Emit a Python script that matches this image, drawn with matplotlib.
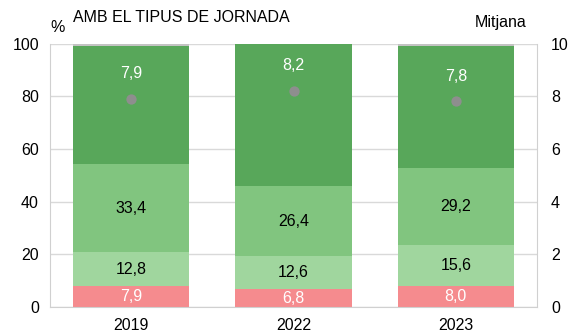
import matplotlib
matplotlib.use("Agg")
import matplotlib.pyplot as plt
import numpy as np

plt.rcParams['font.family'] = ['Liberation Sans', 'DejaVu Sans']

years = ["2019", "2022", "2023"]
share_red = [7.9, 6.8, 8.0]
share_light = [12.8, 12.6, 15.6]
share_mid = [33.4, 26.4, 29.2]
share_dark = [45.0, 54.2, 46.2]
share_gray = [0.9, 0.0, 1.0]
mean_score = [7.9, 8.2, 7.8]

colors = ["#F58B8E", "#A0D69E", "#81C57F", "#58A75A", "#C3C3C3"]
text_colors = ["white", "black", "black", None, None]
fs = 11.5

fig = plt.figure(figsize=(5.72, 3.32), dpi=100)
ax = fig.add_axes([50/572, 1-307/332, 487/572, (307-43.5)/332])
x = np.arange(len(years))
width = 0.715

segments = [share_red, share_light, share_mid, share_dark, share_gray]
bottom = np.zeros(len(years))
for vals, col, tc in zip(segments, colors, text_colors):
    vals = np.array(vals)
    ax.bar(x, vals, width, bottom=bottom, color=col, linewidth=0, zorder=2)
    if tc is not None:
        for xi, b, v in zip(x, bottom, vals):
            ax.text(xi, b + v/2, f"{v:.1f}".replace(".", ","), ha="center",
                    va="center", color=tc, fontsize=fs, zorder=4)
    bottom += vals

ax.set_xlim(-0.5, 2.5)
ax.set_ylim(0, 100)
ax.set_yticks(range(0, 101, 20))
ax.set_xticks(x)
ax.set_xticklabels(years)
ax.yaxis.grid(True, color="#D9D9D9", linewidth=1, zorder=0)
ax.set_axisbelow(True)
ax.tick_params(length=0, labelsize=fs, pad=8)
for s in ["left", "right", "bottom"]:
    ax.spines[s].set_color("#D0D0D0")
ax.spines["top"].set_visible(False)

ax2 = ax.twinx()
ax2.set_ylim(0, 10)
ax2.set_yticks(range(0, 11, 2))
ax2.tick_params(length=0, labelsize=fs, pad=10)
for s in ax2.spines.values():
    s.set_visible(False)
ax2.scatter(x, mean_score, s=55, color="#8E8E8E", zorder=5, linewidths=0)
for xi, m in zip(x, mean_score):
    ax2.annotate(f"{m:.1f}".replace(".", ","), (xi, m), xytext=(0, 18),
                 textcoords="offset points", ha="center", va="center",
                 color="white", fontsize=fs)

fig.text(73/572, 1-17/332, "AMB EL TIPUS DE JORNADA", fontsize=fs,
         ha="left", va="center")
fig.text(50/572, 1-28/332, "%", fontsize=fs, ha="left", va="center")
fig.text(526/572, 1-22/332, "Mitjana", fontsize=fs, ha="right", va="center")

fig.savefig("out.png", dpi=100)
